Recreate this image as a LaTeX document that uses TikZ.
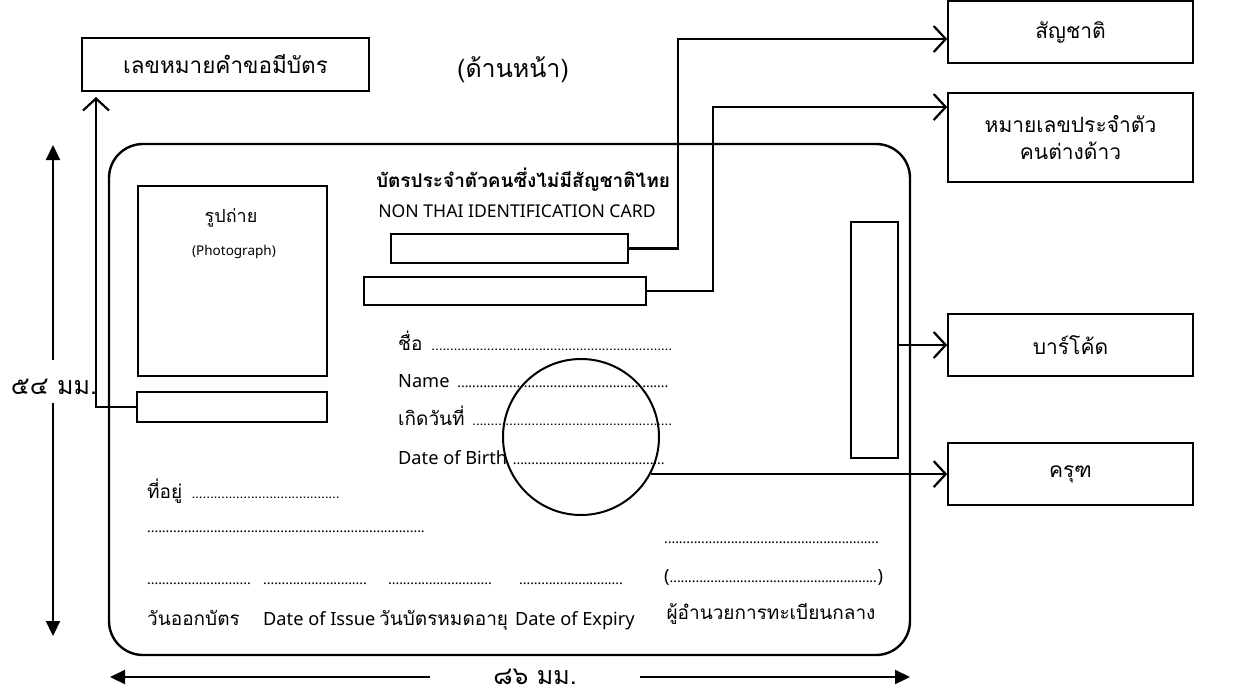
\documentclass[tikz,border=0pt]{standalone}
\usepackage{fontspec}
\setmainfont{Noto Sans}
\newfontfamily\thai[Script=Thai]{Loma}
\usetikzlibrary{arrows.meta}
\newcommand{\dotrow}[2]{\hbox to #1{#2\fontsize{14}{14}\selectfont\leaders\hbox to 3.7pt{\hss.\hss}\hfill}}

\begin{document}
\begin{tikzpicture}[x=1pt,y=-1pt,
  tag/.style={draw,line width=1.6pt,minimum width=245,minimum height=62,inner sep=0pt,
    align=center,font=\thai\fontsize{21}{27}\selectfont},
  slot/.style={draw,line width=2.2pt,inner sep=0pt},
  conn/.style={line width=2.2pt,-{Straight Barb[length=12pt,width=26pt,line width=2.2pt]}},
  dimline/.style={line width=2.2pt,-{Triangle[length=15pt,width=14pt]}},
  row/.style={anchor=base west,inner sep=0pt,font=\fontsize{18.2}{22}\selectfont},
  trow/.style={row,font=\thai\fontsize{19}{22}\selectfont}]
  \useasboundingbox (0,0) rectangle (1254,694);

  % card outline
  \node[draw,line width=2.4pt,rounded corners=34pt,minimum width=801,minimum height=511] (card) at (509.5,399.5) {};

  % boxes outside the card
  \node[tag,minimum width=287,minimum height=53,font=\thai\fontsize{22.5}{27}\selectfont] (reqbox) at (225.5,64.5) {เลขหมายคำขอมีบัตร};
  \node[font=\thai\fontsize{25}{28}\selectfont] (side) at (513,70) {(ด้านหน้า)};
  \node[tag] (natbox) at (1070.5,32) {สัญชาติ};
  \node[tag,minimum height=89] (idbox) at (1070.5,137.5) {หมายเลขประจำตัว\\คนต่างด้าว};
  \node[tag] (barbox) at (1070.5,345) {บาร์โค้ด};
  \node[tag] (garbox) at (1070.5,474) {ครุฑ};

  % inside the card
  \node[draw,line width=1.2pt,minimum width=189,minimum height=190] (photo) at (232.5,281) {};
  \node[font=\thai\fontsize{18}{20}\selectfont] at (231,218) {รูปถ่าย};
  \node[font=\fontsize{13.5}{15}\selectfont] at (234,252) {(Photograph)};
  \node[slot,minimum width=190,minimum height=30] (reqslot) at (232,407) {};
  \node[font=\thai\bfseries\fontsize{19}{22}\selectfont] (title) at (523,180) {บัตรประจำตัวคนซึ่งไม่มีสัญชาติไทย};
  \node[font=\fontsize{17.6}{20}\selectfont] (subtitle) at (517,211) {NON THAI IDENTIFICATION CARD};
  \node[slot,minimum width=237,minimum height=29] (natslot) at (509.5,248.5) {};
  \node[slot,minimum width=282,minimum height=28] (idslot) at (505,291) {};
  \node[slot,minimum width=47,minimum height=236] (barslot) at (874.5,340) {};
  \node[draw,circle,line width=2pt,minimum size=156,inner sep=0pt] (garuda) at (581,437) {};

  \node[trow] at (398,350) {\dotrow{275pt}{ชื่อ }};
  \node[row] at (398,387) {\dotrow{272pt}{Name }};
  \node[trow] at (398,425) {\dotrow{274pt}{เกิดวันที่ }};
  \node[row] at (398,464) {\dotrow{267pt}{Date of Birth }};
  \node[trow] at (147,498) {\dotrow{196pt}{ที่อยู่ }};
  \node[row] at (147,532) {\dotrow{281pt}{}};
  \foreach \x in {147,263,388,519}
    \node[row] at (\x,584) {\dotrow{104pt}{}};
  \node[trow] at (147,625) {วันออกบัตร};
  \node[row] at (263,625) {Date of Issue};
  \node[trow] at (379,625) {วันบัตรหมดอายุ};
  \node[row] at (515,625) {Date of Expiry};
  \node[row] at (664,543) {\dotrow{216pt}{}};
  \node[row] at (664,582) {\hbox to 216pt{(\dotrow{208pt}{})}};
  \node[trow,anchor=base] at (771,619) {ผู้อำนวยการทะเบียนกลาง};

  % connectors
  \coordinate (reqtip) at (96,97);
  \coordinate (natbend) at (678,39);
  \coordinate (idbend) at (713,107);
  \draw[conn] (reqslot.west) -| (reqtip);
  \draw[conn] (natslot.east) -| (natbend) -- (natbend -| natbox.west);
  \draw[conn] (idslot.east) -| (idbend) -- (idbend -| idbox.west);
  \draw[conn] (barslot.east |- barbox.west) -- (barbox.west);
  \draw[conn] (garuda.-28) -- (garuda.-28 -| garbox.west);

  % dimensions
  \node[font=\thai\fontsize{25}{28}\selectfont] (hdim) at (54,387) {๕๔ มม.};
  \node[font=\thai\fontsize{25}{28}\selectfont] (wdim) at (535,677) {๘๖ มม.};
  \coordinate (htop) at (53,145);
  \coordinate (hbot) at (53,636);
  \coordinate (wleft) at (110,677);
  \coordinate (wright) at (910,677);
  \draw[dimline] (53,360) -- (htop);
  \draw[dimline] (53,403) -- (hbot);
  \draw[dimline] (430,677) -- (wleft);
  \draw[dimline] (640,677) -- (wright);
\end{tikzpicture}
\end{document}
